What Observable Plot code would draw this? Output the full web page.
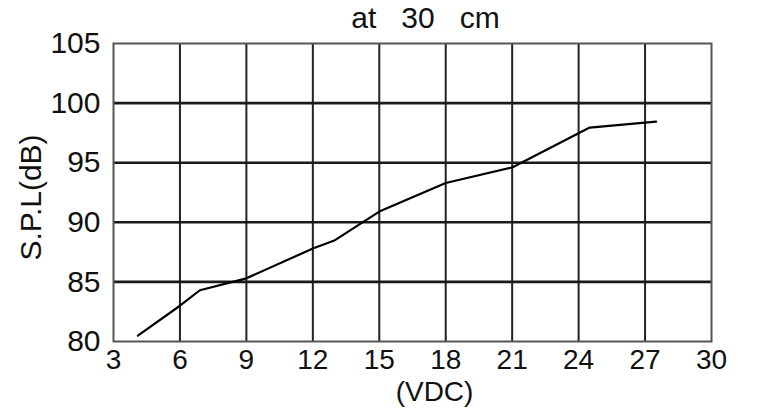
<!DOCTYPE html>
<html>
<head>
<meta charset="utf-8">
<script src="https://cdn.jsdelivr.net/npm/d3@7"></script>
<script src="https://cdn.jsdelivr.net/npm/@observablehq/plot@0.6"></script>
<style>
  html, body { margin: 0; padding: 0; background: #fff; }
  #chart svg { display: block; }
</style>
</head>
<body>
<div id="chart"></div>
<script>
const voltage = [4.1, 6, 6.9, 9, 12, 13, 15, 18, 21, 24.5, 27.5];
const spl = [80.5, 83.0, 84.3, 85.3, 87.8, 88.5, 90.9, 93.3, 94.6, 97.95, 98.45];
const xTicks = [3, 6, 9, 12, 15, 18, 21, 24, 27, 30];
const yTicks = [80, 85, 90, 95, 100, 105];
const titleText = "at\u00a0\u00a0\u00a030\u00a0\u00a0\u00a0cm";
const xLabel = "(VDC)";
const yLabel = "S.P.L(dB)";

const data = voltage.map((v, i) => ({v, db: spl[i]}));
const font = "Liberation Sans, Arial, sans-serif";

const chart = Plot.plot({
  width: 760,
  height: 410,
  marginTop: 43,
  marginBottom: 69,
  marginLeft: 113,
  marginRight: 49,
  style: {fontFamily: font, fontSize: "30px", background: "#fff", color: "#111"},
  x: {domain: [3, 30], ticks: xTicks},
  y: {domain: [80, 105], ticks: yTicks},
  marks: [
    Plot.gridX(xTicks.slice(1, -1), {stroke: "#222", strokeOpacity: 1, strokeWidth: 2}),
    Plot.gridY(yTicks.slice(1, -1), {stroke: "#1a1a1a", strokeOpacity: 1, strokeWidth: 2.6}),
    Plot.frame({stroke: "#555", strokeWidth: 2}),
    Plot.line(data, {x: "v", y: "db", stroke: "#000", strokeWidth: 2.2}),
    Plot.axisX({ticks: xTicks, tickSize: 0, tickPadding: 8, label: null, fontSize: 28, fill: "#111"}),
    Plot.axisY({ticks: yTicks, tickSize: 0, tickPadding: 13, label: null, fontSize: 30, fill: "#111"}),
    Plot.text([titleText], {frameAnchor: "top", textAnchor: "middle", dx: 13, dy: -25, fontSize: 30, fill: "#111", lineAnchor: "middle"}),
    Plot.text([xLabel], {frameAnchor: "bottom", textAnchor: "middle", dx: 22, dy: 40, fontSize: 28, fill: "#111", lineAnchor: "top"}),
    Plot.text([yLabel], {frameAnchor: "left", textAnchor: "middle", dx: -82, dy: 5, rotate: -90, fontSize: 30, fill: "#111", lineAnchor: "middle"})
  ]
});
document.getElementById("chart").append(chart);
</script>
</body>
</html>
